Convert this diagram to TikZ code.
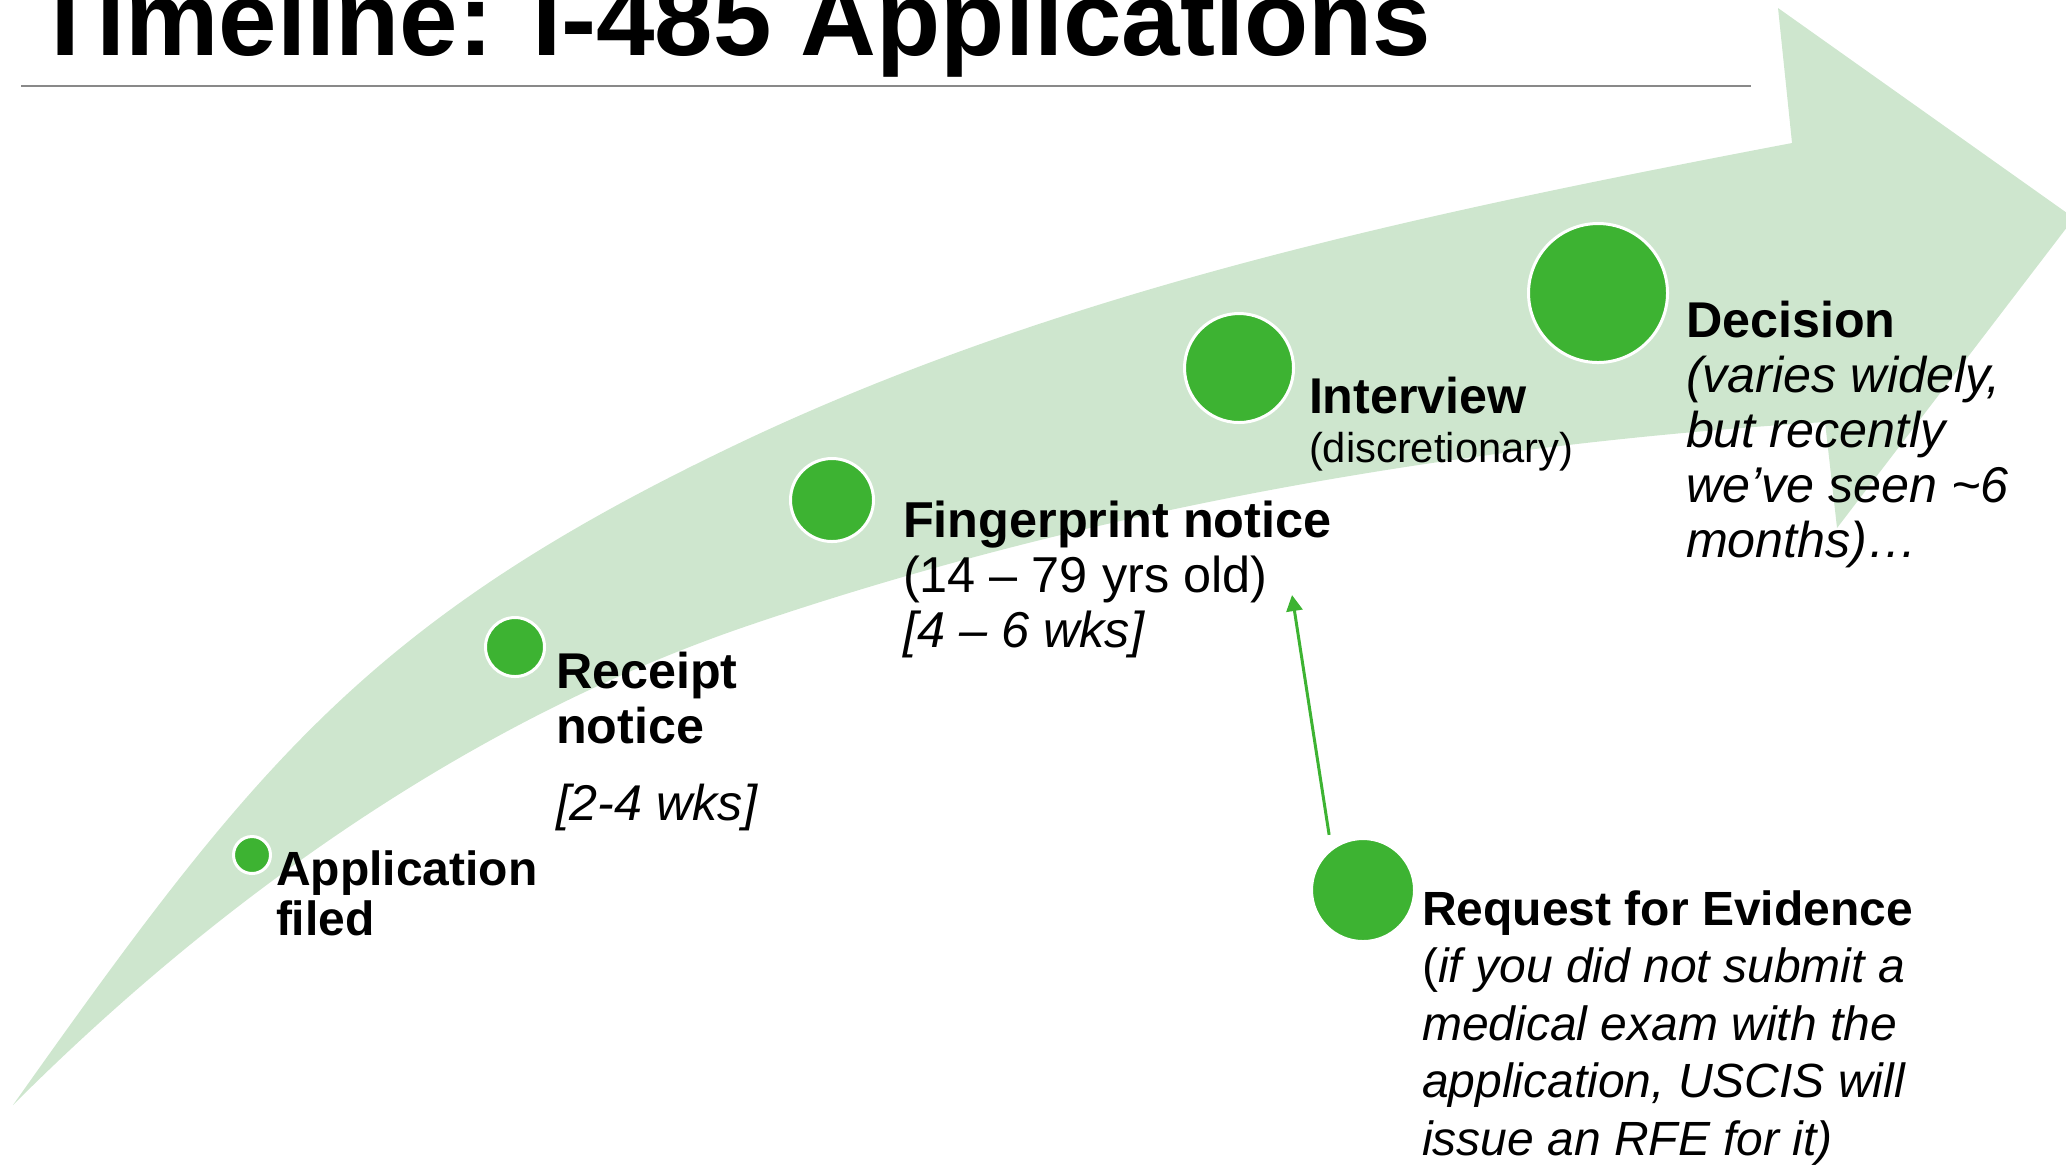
\documentclass[tikz,border=0pt]{standalone}
\usepackage{fontspec}
\setmainfont{Liberation Sans}
\usetikzlibrary{arrows.meta}
\definecolor{bandgreen}{RGB}{206,230,206}
\definecolor{dotgreen}{RGB}{61,179,50}
\definecolor{rulegray}{RGB}{137,137,137}
\newcommand\lbltab[3]{\fontsize{#1}{#2}\selectfont\begin{tabular}[t]{@{}l@{}}#3\end{tabular}}
\begin{document}
\begin{tikzpicture}[x=0.1mm,y=-0.1mm,
  dot/.style={circle,fill=dotgreen,draw=white,line width=0.3mm,inner sep=0pt},
  lbl/.style={anchor=base west,inner sep=0pt,outer sep=0pt},
  conn/.style={draw=dotgreen,line width=0.3mm,-{Triangle[length=1.6mm,width=1.6mm]}}]
\useasboundingbox (0,0) rectangle (2066,1164);
\clip (0,0) rectangle (2066,1164);
% big curved arrow
\fill[bandgreen] (13,1105) .. controls (256,762) and (370,617) .. (750,438)
  .. controls (1077,285) and (1438,210.5) .. (1792,143)
  -- (1778,8) -- (2074,218) -- (1837,528) -- (1825,422)
  .. controls (1461,445) and (1096,507.5) .. (750,625)
  .. controls (472.5,719) and (220,898) .. (13,1105) -- cycle;
% title and rule
\node[anchor=base west,inner sep=0pt,font=\fontsize{29.9pt}{32pt}\selectfont\bfseries] (title) at (33,55) {Timeline: I-485 Applications};
\draw[rulegray,line width=0.25mm] (21,86) -- (1751,86);
% milestones
\node[dot,minimum size=3.7mm] (app) at (252,855) {};
\node[dot,minimum size=5.9mm] (rec) at (515,647) {};
\node[dot,minimum size=8.3mm] (fp) at (832,500) {};
\node[dot,minimum size=10.9mm] (int) at (1239,368) {};
\node[dot,minimum size=13.9mm] (dec) at (1598,293) {};
\node[dot,minimum size=10.3mm] (rfe) at (1363,890) {};
% labels
\node[lbl] (applbl) at (276,885) {\lbltab{13.66pt}{14.23pt}{\bfseries Application\\\bfseries filed}};
\node[lbl] (reclbl) at (556,688) {\lbltab{14.3pt}{15.65pt}{\bfseries Receipt\\\bfseries notice\\[6.5pt]\itshape [2-4 wks]}};
\node[lbl] (fplbl) at (903,537) {\lbltab{14.35pt}{15.65pt}{\bfseries Fingerprint notice\\(14 – 79 yrs old)\\\itshape [4 – 6 wks]}};
\node[lbl] (intlbl) at (1309,413) {\lbltab{14.3pt}{13.94pt}{\bfseries Interview\\\fontsize{11.87pt}{13.94pt}\selectfont (discretionary)}};
\node[lbl] (declbl) at (1686,337) {\lbltab{14.3pt}{15.65pt}{\bfseries Decision\\\itshape (varies widely,\\\itshape but recently\\\itshape we’ve seen \textasciitilde6\\\itshape months)…}};
\node[lbl] (rfelbl) at (1422,925) {\lbltab{13.66pt}{16.4pt}{\bfseries Request for Evidence\\(\textit{if you did not submit a}\\\itshape medical exam with the\\\itshape application, USCIS will\\\itshape issue an RFE for it)}};
% connector
\coordinate (fptip) at (1292,595);
\draw[conn,shorten <=1.3mm] (rfe.127) -- (fptip);
\end{tikzpicture}
\end{document}
